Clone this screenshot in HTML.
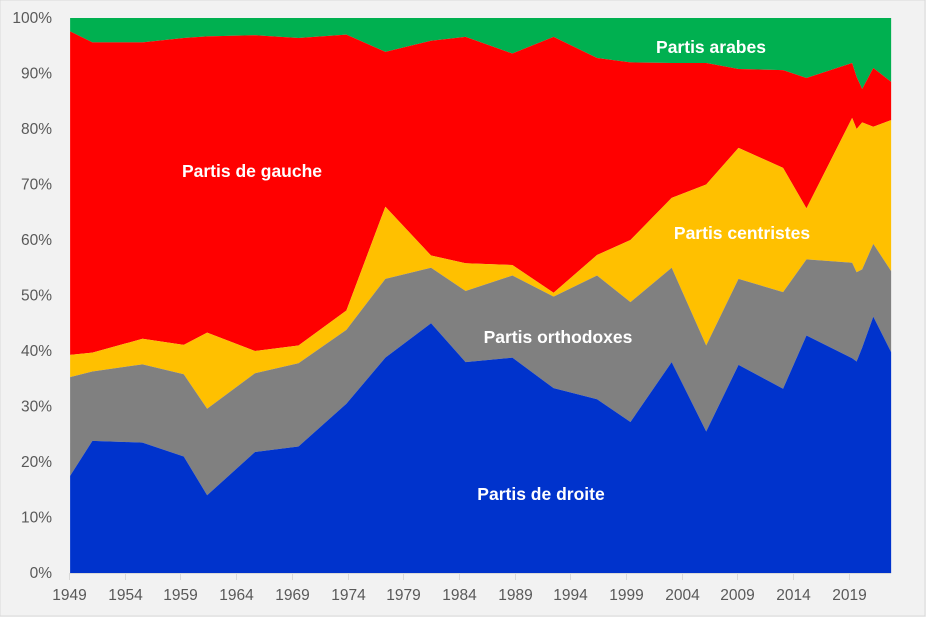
<!DOCTYPE html>
<html><head><meta charset="utf-8"><style>
html,body{margin:0;padding:0;background:#f2f2f2;}
svg{display:block;font-family:"Liberation Sans",sans-serif;}
</style></head><body>
<svg id="chart" width="926" height="617">
<rect x="0" y="0" width="925" height="616" fill="#f2f2f2" stroke="#d9d9d9"/>
<g id="areas"></g>
<g id="axes"></g>
<g id="labels" font-weight="bold" font-size="17.5" fill="#fff" text-anchor="middle"></g>
</svg>
<script>
const years = [1949.1,1951.1,1955.6,1959.3,1961.4,1965.7,1969.6,1973.9,1977.4,1981.5,1984.6,1988.8,1992.5,1996.4,1999.4,2003.1,2006.2,2009.1,2013.1,2015.2,2019.3,2019.7,2020.2,2021.2,2022.8];
const droite = [17.5,23.8,23.5,21,14,21.8,22.8,30.5,38.8,45,38,38.8,33.3,31.3,27.2,38,25.5,37.5,33.2,42.8,38.7,38.1,40.6,46.2,39.8];
const orthodoxesCum = [35.3,36.3,37.6,35.8,29.6,36,37.8,43.8,53,55,50.8,53.6,49.8,53.6,48.8,55,41,53,50.6,56.5,55.9,54.2,54.7,59.3,54.4];
const centristesCum = [39.3,39.7,42.2,41.1,43.3,40,41,47.3,66,57.2,55.8,55.5,50.5,57.3,60,67.6,70,76.6,73,65.7,82,80,81.2,80.4,81.6];
const gaucheCum = [97.6,95.6,95.6,96.4,96.7,96.9,96.4,97,93.9,95.9,96.6,93.6,96.6,92.8,92,91.9,91.9,90.8,90.6,89.2,91.9,89.4,87.2,91,88.5];
const arabesCum = years.map(()=>100);
const yTicks = [0,10,20,30,40,50,60,70,80,90,100];
const xTicks = [1949,1954,1959,1964,1969,1974,1979,1984,1989,1994,1999,2004,2009,2014,2019];

const X0=69, PXY=11.14, Y0=573, PXP=5.55;
const xs = y => X0 + (y-1949)*PXY;
const ys = p => Y0 - p*PXP;
const NS="http://www.w3.org/2000/svg";
const areas=document.getElementById('areas');
const layers=[
 {name:'area-arabes',top:arabesCum,bot:gaucheCum,c:'#00b050'},
 {name:'area-gauche',top:gaucheCum,bot:centristesCum,c:'#ff0000'},
 {name:'area-centristes',top:centristesCum,bot:orthodoxesCum,c:'#ffc000'},
 {name:'area-orthodoxes',top:orthodoxesCum,bot:droite,c:'#808080'},
 {name:'area-droite',top:droite,bot:years.map(()=>0),c:'#0033cc'}
];
layers.forEach(L=>{
  let pts=years.map((y,i)=>xs(y)+','+ys(L.top[i]));
  for(let i=years.length-1;i>=0;i--) pts.push(xs(years[i])+','+ys(L.bot[i]));
  const p=document.createElementNS(NS,'polygon');
  p.setAttribute('points',pts.join(' '));
  p.setAttribute('fill',L.c);
  
  
  areas.appendChild(p);
});
const axes=document.getElementById('axes');
const line=document.createElementNS(NS,'line');
line.setAttribute('x1',X0);line.setAttribute('x2',xs(years[years.length-1]));
line.setAttribute('y1',Y0+0.5);line.setAttribute('y2',Y0+0.5);line.setAttribute('stroke','#d9d9d9');


axes.appendChild(line);
yTicks.forEach(v=>{
  const t=document.createElementNS(NS,'text');
  t.setAttribute('x',52);t.setAttribute('y',ys(v)+5);t.setAttribute('text-anchor','end');
  t.setAttribute('font-size','15.5');t.setAttribute('fill','#595959');
  t.textContent=v+'%';
  
  
  axes.appendChild(t);
});
xTicks.forEach(v=>{
  const x=Math.round(xs(v))+0.5;
  const m=document.createElementNS(NS,'line');
  m.setAttribute('x1',x);m.setAttribute('x2',x);m.setAttribute('y1',Y0);m.setAttribute('y2',Y0+7);
  m.setAttribute('stroke','#d9d9d9');
  
  
  axes.appendChild(m);
  const t=document.createElementNS(NS,'text');
  t.setAttribute('x',x);t.setAttribute('y',600);t.setAttribute('text-anchor','middle');
  t.setAttribute('font-size','15.5');t.setAttribute('fill','#595959');
  t.textContent=v;
  
  
  axes.appendChild(t);
});
const labelNames=['Partis arabes','Partis de gauche','Partis centristes','Partis orthodoxes','Partis de droite'];
const labelPos=[[711,53],[252,177],[742,239],[558,343],[541,500]];
const lg=document.getElementById('labels');
labelNames.forEach((n,i)=>{
  const t=document.createElementNS(NS,'text');
  t.setAttribute('x',labelPos[i][0]);t.setAttribute('y',labelPos[i][1]);
  t.textContent=n;
  
  
  lg.appendChild(t);
});
</script>
</body></html>
